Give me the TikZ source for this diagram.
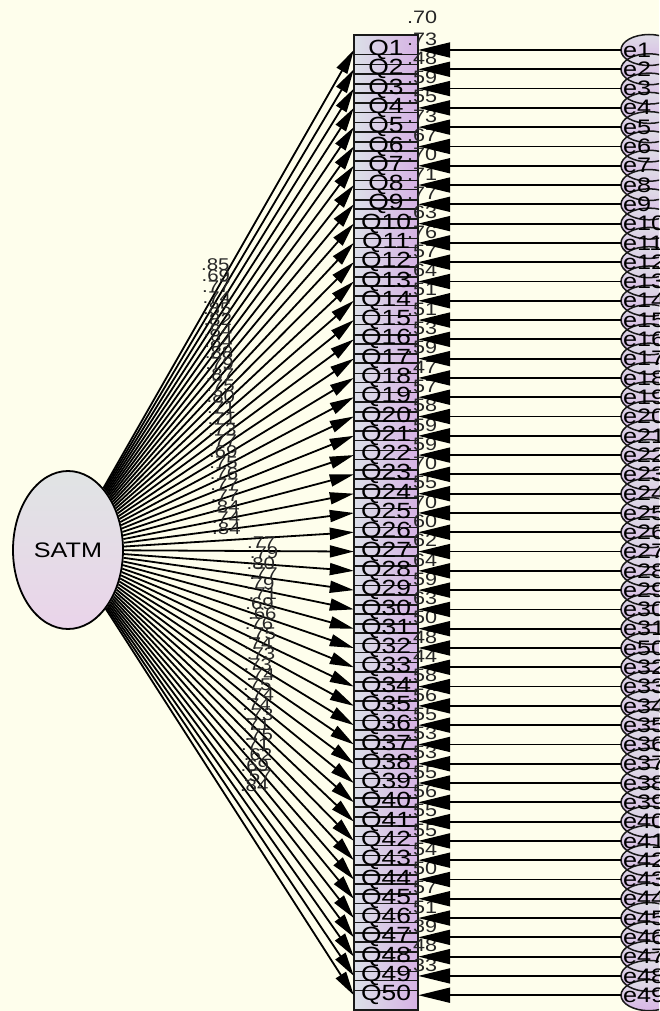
\documentclass[tikz,border=0pt]{standalone}
\usepackage{fontspec}
\setmainfont{Liberation Sans}[FakeStretch=1.2]
\usetikzlibrary{arrows.meta,shapes.geometric}
\definecolor{bg}{HTML}{FEFEEC}
\definecolor{boxL}{HTML}{DCE0E8}
\definecolor{boxR}{HTML}{D6B2E4}
\definecolor{satmT}{HTML}{E0E4E4}
\definecolor{satmB}{HTML}{EAD4EA}
\definecolor{errT}{HTML}{DEDCE6}
\definecolor{errB}{HTML}{D8B6E6}
\tikzset{
  qbox/.style={rectangle, minimum width=64pt, minimum height=29pt, inner sep=0pt, left color=boxL, right color=boxR, draw=none},
  boxline/.style={line width=1.6pt, draw=black!90},
  qtext/.style={inner sep=0pt, font=\fontsize{22}{22}\selectfont},
  rtext/.style={inner sep=0pt, anchor=west, font=\fontsize{18}{18}\selectfont, text=black!85},
  ltext/.style={inner sep=0pt, anchor=west, font=\fontsize{17}{17}\selectfont, text=black!85},
  enode/.style={ellipse, minimum width=56pt, minimum height=31pt, inner sep=0pt, top color=errT, bottom color=errB, draw=none},
  eline/.style={line width=1.5pt, draw=black!90},
  etext/.style={inner sep=0pt, anchor=west, font=\fontsize{21}{21}\selectfont},
  satmnode/.style={ellipse, minimum width=110pt, minimum height=158pt, inner sep=0pt, top color=satmT, bottom color=satmB, draw=black, line width=1.8pt, font=\fontsize{21}{21}\selectfont},
  larrow/.style={line width=1.8pt, -{Triangle[length=24pt,width=12pt]}},
  earrow/.style={line width=1.8pt, -{Triangle[length=32pt,width=15pt]}}
}
\begin{document}
\begin{tikzpicture}[x=1pt,y=-1pt]
\clip (0,0) rectangle (659,1011);
\fill[bg] (0,0) rectangle (659,1011);
% latent variable
\node[satmnode] (satm) at (68,550) {SATM};
% observed boxes: fills
\foreach \k in {1,...,50} {
  \pgfmathsetmacro\yy{50+19.29*(\k-1)}
  \node[qbox] (q\k) at (386,\yy) {};
}
\foreach \k in {1,...,50} {
  \draw[boxline] (q\k.north west) rectangle (q\k.south east);
}
\foreach \k in {1,...,50} {
  \node[qtext] (qt\k) at (q\k) {Q\k};
}
% squared multiple correlations
\node[rtext] (r50) at (407,17) {.70};
\foreach \k/\r in {1/.73,2/.48,3/.59,4/.55,5/.73,6/.67,7/.70,8/.71,9/.77,10/.63,
  11/.76,12/.57,13/.64,14/.51,15/.51,16/.53,17/.59,18/.47,19/.57,20/.58,
  21/.59,22/.59,23/.70,24/.55,25/.70,26/.60,27/.62,28/.64,29/.59,30/.63,
  31/.50,32/.48,33/.44,34/.58,35/.56,36/.55,37/.53,38/.53,39/.55,40/.56,
  41/.55,42/.55,43/.54,44/.50,45/.57,46/.51,47/.39,48/.48,49/.33} {
  \pgfmathsetmacro\yy{50+19.29*(\k-1)-11}
  \node[rtext] (r\k) at (407,\yy) {\r};
}
% error terms
\foreach \k in {1,...,50} {
  \pgfmathsetmacro\yy{50+19.29*(\k-1)}
  \node[enode] (e\k) at (649,\yy) {};
}
\foreach \k in {1,...,50} {
  \draw[eline] (e\k.center) ellipse [x radius=28pt, y radius=15.5pt];
}
\foreach \k in {1,...,50} {
  \pgfmathtruncatemacro\en{\k<32 ? \k : (\k==32 ? 50 : \k-1)}
  \node[etext] (et\k) at (623,{50+19.29*(\k-1)}) {e\en};
}
% loadings arrows
\foreach \k in {1,...,50} {
  \draw[larrow] (satm) -- (q\k.west);
}
% loading labels
\foreach \k/\l in {1/.85,2/.69,3/.77,4/.74,5/.85,6/.82,7/.84,8/.84,9/.88,10/.79,
  11/.87,12/.75,13/.80,14/.71,15/.71,16/.73,17/.77,18/.69,19/.75,20/.76,
  21/.77,22/.77,23/.84,24/.74,25/.84,26/.77,27/.79,28/.80,29/.77,30/.79,
  31/.71,32/.69,33/.66,34/.76,35/.75,36/.74,37/.73,38/.73,39/.74,40/.75,
  41/.74,42/.74,43/.73,44/.71,45/.75,46/.71,47/.62,48/.69,49/.57,50/.84} {
  \pgfmathsetmacro\lx{\k<26 ? 201+(\k-1)*0.46 : 247-(\k-26)*0.3+3*mod(\k,2)}
  \pgfmathsetmacro\ly{\k<26 ? 265+(\k-1)*11 : 543+(\k-26)*10.1}
  \node[ltext] (l\k) at (\lx,\ly) {\l};
}
% error arrows
\foreach \k in {1,...,50} {
  \draw[earrow] (e\k.west) -- (q\k.east);
}
\end{tikzpicture}
\end{document}
